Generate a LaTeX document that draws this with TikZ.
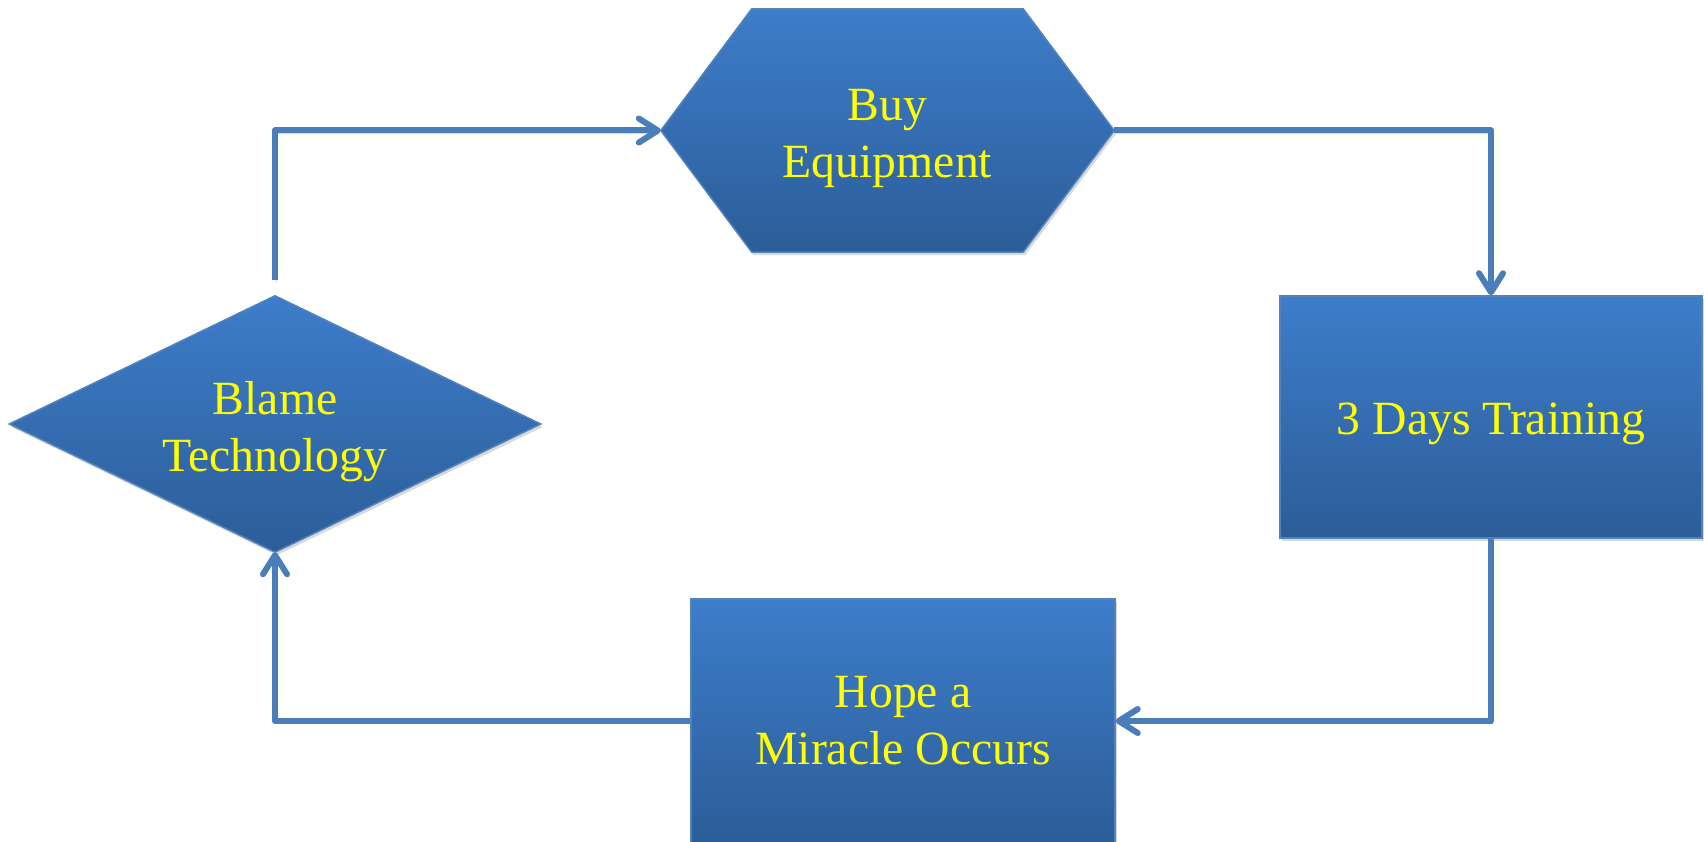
\documentclass[tikz,border=0pt]{standalone}
\usepackage{fontspec}
\setmainfont{Liberation Serif}
\usetikzlibrary{arrows.meta,shadows,calc}
\pgfdeclarelayer{background}
\pgfsetlayers{background,main}

\definecolor{boxtop}{RGB}{61,125,202}
\definecolor{boxbot}{RGB}{44,93,152}
\definecolor{boxedge}{RGB}{80,130,190}
\definecolor{flowline}{RGB}{74,126,187}
\definecolor{labelyellow}{RGB}{255,255,0}

\tikzset{
  boxfill/.style={top color=boxtop, bottom color=boxbot, draw=boxedge, line width=1.5pt},
  boxshadow/.style={drop shadow={shadow xshift=2pt, shadow yshift=-3pt, opacity=0.25, fill=black!60}},
  captiontext/.style={text=labelyellow, font=\fontsize{47.7}{57}\selectfont, align=center, inner sep=0pt},
  frame/.style={inner sep=0pt},
  procbox/.style={rectangle, boxfill, boxshadow, inner sep=0pt},
  flow/.style={draw=flowline, line width=6pt, line join=round,
    preaction={draw=black!45, opacity=0.35, transform canvas={shift={(1.5pt,-2.5pt)}}},
    -{Straight Barb[length=19pt,width=24pt,line cap=round,line join=round]}},
}

\begin{document}
\begin{tikzpicture}[x=1pt, y=-1pt]
  \useasboundingbox (0,0) rectangle (1704,842);

  % process steps
  \node[frame, minimum width=453pt, minimum height=243pt] (buy) at (887.5,130.5) {};
  \node[procbox, minimum width=422pt, minimum height=242pt] (train) at (1491,417) {};
  \node[procbox, minimum width=424pt, minimum height=244pt] (hope) at (903,721) {};
  \node[frame, minimum width=531pt, minimum height=256pt] (blame) at (275,424) {};

  % hexagon and decision diamond
  \begin{pgfonlayer}{background}
    \path[boxfill, boxshadow]
      (buy.west) -- ($(buy.north west)+(91,0)$) -- ($(buy.north east)+(-91,0)$)
      -- (buy.east) -- ($(buy.south east)+(-91,0)$) -- ($(buy.south west)+(91,0)$)
      -- cycle;
    \path[boxfill, boxshadow]
      (blame.north) -- (blame.east) -- (blame.south) -- (blame.west) -- cycle;
  \end{pgfonlayer}

  % labels
  \node[captiontext] (buytext)   at ([yshift=-8pt]buy.center)   {Buy\\Equipment};
  \node[captiontext] (traintext) at ([yshift=-7pt]train.center) {3 Days Training};
  \node[captiontext] (hopetext)  at (hope.center)               {Hope a\\Miracle Occurs};
  \node[captiontext] (blametext) at ([yshift=-8pt]blame.center) {Blame\\Technology};

  % the cycle
  \draw[flow, shorten <=16pt] (blame.north) |- (buy.west);
  \draw[flow] (buy.east) -| (train.north);
  \draw[flow] (train.south) |- (hope.east);
  \draw[flow] (hope.west) -| (blame.south);
\end{tikzpicture}
\end{document}
